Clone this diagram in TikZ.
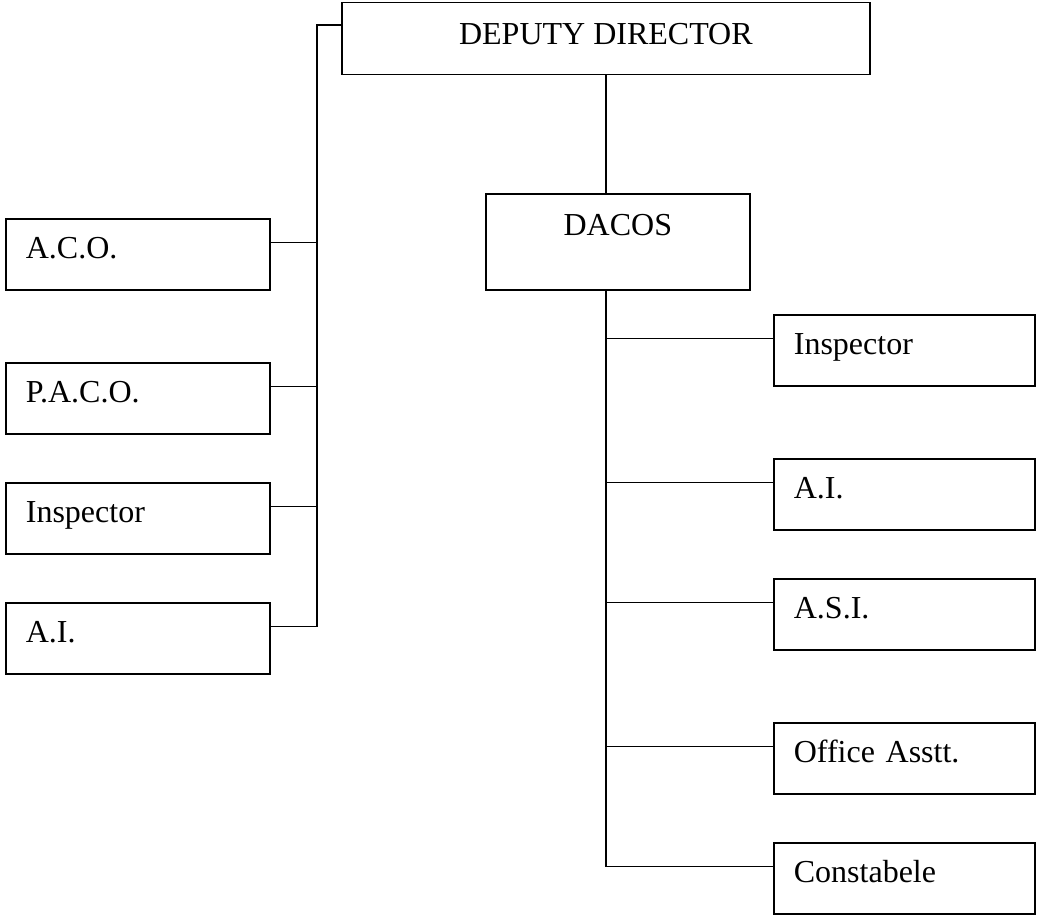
\documentclass[tikz,border=0pt]{standalone}
\usepackage{fontspec}
\setmainfont{Liberation Serif}
\usetikzlibrary{positioning, calc}

\begin{document}
\begin{tikzpicture}[
    x=0.75pt, y=-0.75pt,
    font=\fontsize{24}{28}\selectfont,
    post/.style  = {rectangle, draw, line width=1.3pt, anchor=north west,
                    inner xsep=15pt, inner ysep=0pt, text width=168pt, align=left,
                    text height=30pt, text depth=23.5pt},
    rpost/.style = {post, text width=166pt},
    head/.style  = {rectangle, draw, line width=1.3pt, anchor=north west,
                    inner sep=0pt, align=center, text height=31.5pt},
    conn/.style  = {line width=1.3pt},
]
\useasboundingbox (0,0) rectangle (1037,915);

% ---------------- top of the chart ----------------
\node[head, minimum width=396pt, text depth=22.5pt] (dd) at (341,1.5) {DEPUTY DIRECTOR};
\node[head, minimum width=198pt, text depth=40.5pt] (dacos) at (485,193) {DACOS};

% ---------------- left branch ----------------
\node[post] (aco)   at (5,218) {A.C.O.};
\node[post] (paco)  at (5,362) {P.A.C.O.};
\node[post] (linsp) at (5,482) {Inspector};
\node[post] (lai)   at (5,602) {A.I.};

% ---------------- right branch ----------------
\node[rpost] (rinsp) at (773,314) {Inspector};
\node[rpost] (rai)   at (773,458) {A.I.};
\node[rpost] (rasi)  at (773,578) {A.S.I.};
\node[rpost] (roff)  at (773,722) {Office Asstt.};
\node[rpost] (rcon)  at (773,842) {Constabele};

% ---------------- connectors ----------------
\coordinate (lbus) at (317,25);
\draw[conn] (dd.west |- lbus) -- (lbus) |- ([yshift=9pt]lai.east);
\foreach \n in {aco,paco,linsp}
  \draw[conn] ([yshift=9pt]\n.east) -- ([yshift=9pt]\n.east -| lbus);

\draw[conn] (dd.south) -- (dd.south |- dacos.north);
\draw[conn] (dd.south |- dacos.south) |- ([yshift=9pt]rcon.west);
\foreach \n in {rinsp,rai,rasi,roff}
  \draw[conn] ([yshift=9pt]\n.west) -- ([yshift=9pt]\n.west -| dd.south);

\end{tikzpicture}
\end{document}
